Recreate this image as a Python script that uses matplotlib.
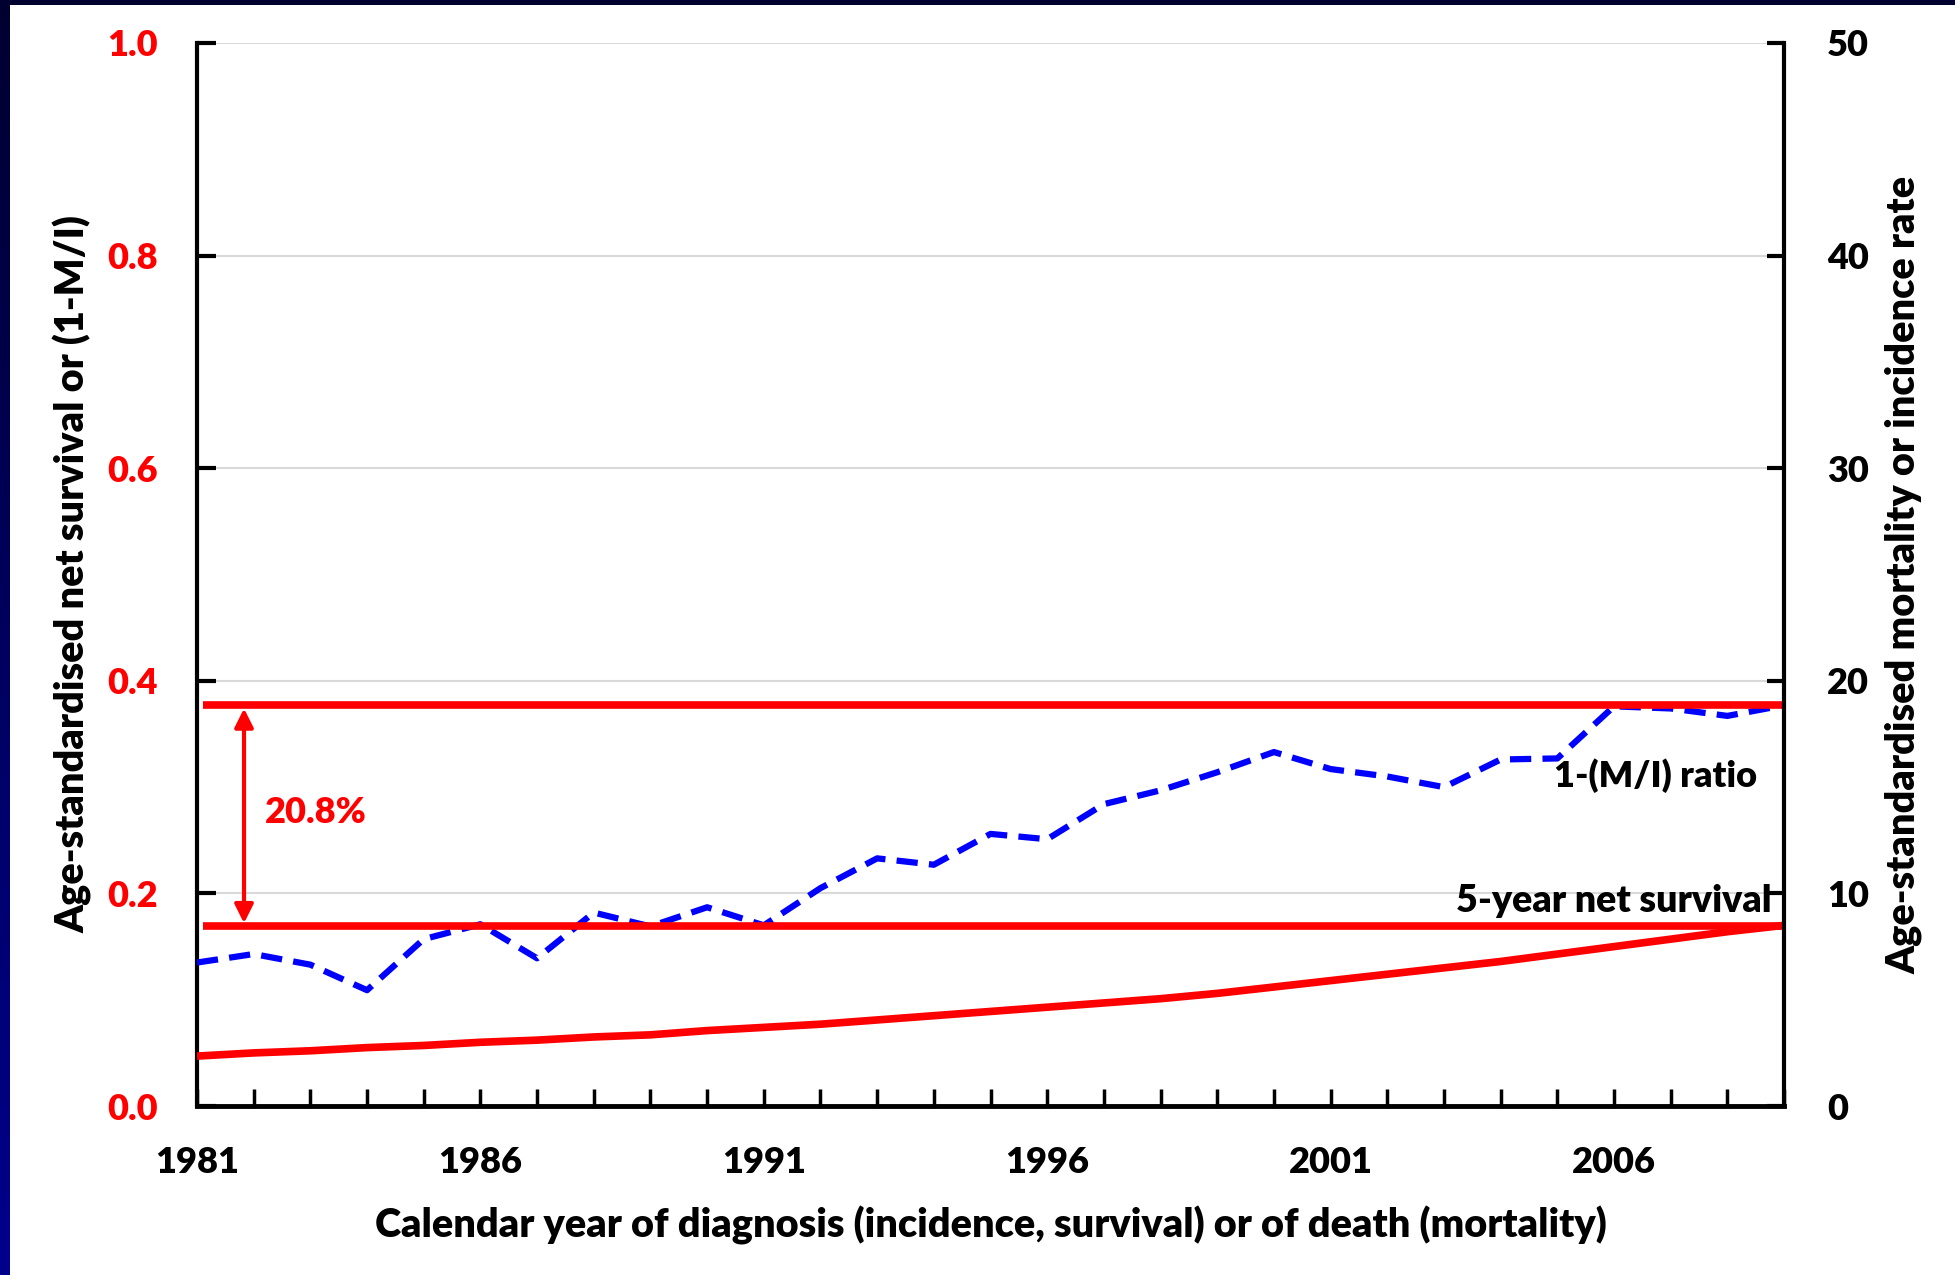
import matplotlib
matplotlib.use("Agg")
import matplotlib.pyplot as plt
import numpy as np
from matplotlib.colors import LinearSegmentedColormap

plt.rcParams['font.family'] = ['Lato', 'DejaVu Sans']
plt.rcParams['font.weight'] = 'heavy'

# calendar years and the two series (left axis, proportion)
years = list(range(1981, 2010))
ratio_1_mi = [0.135, 0.143, 0.133, 0.109, 0.157, 0.171, 0.139, 0.182, 0.169, 0.187,
              0.170, 0.205, 0.233, 0.227, 0.256, 0.251, 0.284, 0.297, 0.314, 0.333,
              0.317, 0.310, 0.300, 0.326, 0.327, 0.376, 0.374, 0.367, 0.377]
net_survival = [0.047, 0.050, 0.052, 0.055, 0.057, 0.060, 0.062, 0.065, 0.067, 0.071,
                0.074, 0.077, 0.081, 0.085, 0.089, 0.093, 0.097, 0.101, 0.106, 0.112,
                0.118, 0.124, 0.130, 0.136, 0.143, 0.150, 0.157, 0.164, 0.170]

ratio_level = 0.377      # horizontal reference for 1-(M/I)
survival_level = 0.169   # horizontal reference for 5-year net survival
gap_label = "20.8%"

left_ticks = [0.0, 0.2, 0.4, 0.6, 0.8, 1.0]
right_ticks = [0, 10, 20, 30, 40, 50]
year_labels = [1981, 1986, 1991, 1996, 2001, 2006]

RED = '#ff0000'
BLUE = '#0000ff'
W = 'heavy'

fig = plt.figure(figsize=(19.56, 12.75), dpi=100)
fig.patch.set_facecolor('white')

# dark slide border along the top and left edge
strip = fig.add_axes([0, 0, 10 / 1956, 1])
grad = np.linspace(0, 1, 256).reshape(-1, 1)
navy = LinearSegmentedColormap.from_list('navy', ['#00008c', '#000030'])
strip.imshow(grad, aspect='auto', cmap=navy, origin='lower', extent=[0, 1, 0, 1])
strip.axis('off')
top = fig.add_axes([0, 1 - 5 / 1275, 1, 5 / 1275])
top.set_facecolor('#000030')
top.set_xticks([]); top.set_yticks([])
for s in top.spines.values():
    s.set_visible(False)

ax = fig.add_axes([0.1007, 0.1325, 0.8114, 0.8338])
ax.set_xlim(1981, 2009)
ax.set_ylim(0, 1.0)

ax.plot(years, ratio_1_mi, color=BLUE, lw=4.5, dashes=(3.4, 1.8), zorder=3)
ax.plot(years, net_survival, color=RED, lw=5.5, zorder=3, solid_capstyle='butt')
ax.hlines([ratio_level, survival_level], 1981.1, 2009, color=RED, lw=5.5, zorder=4)

ax.annotate('', xy=(1981.83, survival_level + 0.003), xytext=(1981.83, ratio_level - 0.003),
            arrowprops=dict(arrowstyle='<|-|>', color=RED, lw=3, mutation_scale=28,
                            shrinkA=0, shrinkB=0), zorder=5)
ax.text(1982.2, 0.276, gap_label, color=RED, fontsize=26, fontweight=W,
        ha='left', va='center')
ax.text(2008.52, 0.311, '1-(M/I) ratio', color='black', fontsize=26,
        fontweight=W, ha='right', va='center')
ax.text(2008.78, 0.193, '5-year net survival', color='black', fontsize=27,
        fontweight=W, ha='right', va='center')

ax.set_yticks(left_ticks)
ax.set_yticklabels([f'{t:.1f}' for t in left_ticks])
ax.set_xticks(year_labels)
ax.set_xticks(years, minor=True)
ax.grid(axis='y', color='#d9d9d9', lw=1.5, zorder=0)
ax.set_axisbelow(True)
ax.tick_params(axis='y', direction='in', length=14, width=3, labelsize=26,
               labelcolor=RED, pad=28)
ax.tick_params(axis='x', which='both', direction='in', length=12, width=2.5,
               labelsize=26, pad=29)
for lbl in ax.get_xticklabels() + ax.get_yticklabels():
    lbl.set_fontweight(W)

ax.spines['top'].set_visible(False)
ax.spines['right'].set_visible(False)
ax.spines['left'].set_linewidth(3)
ax.spines['bottom'].set_linewidth(3.5)

ax.set_xlabel('Calendar year of diagnosis (incidence, survival) or of death (mortality)',
              fontsize=28.5, fontweight=W)
ax.xaxis.set_label_coords(0.5, -0.094)
ax.set_ylabel('Age-standardised net survival or (1-M/I)', fontsize=28.5, fontweight=W)
ax.yaxis.set_label_coords(-0.066, 0.5)

ax2 = ax.twinx()
ax2.set_ylim(0, 50)
ax2.set_yticks(right_ticks)
ax2.tick_params(axis='y', direction='in', length=12, width=3, labelsize=26, pad=31)
for lbl in ax2.get_yticklabels():
    lbl.set_fontweight(W)
for side in ['top', 'left', 'bottom']:
    ax2.spines[side].set_visible(False)
ax2.spines['right'].set_linewidth(3)
ax2.set_ylabel('Age-standardised mortality or incidence rate', fontsize=28.5,
               fontweight=W)
ax2.yaxis.set_label_coords(1.0637, 0.5)

fig.savefig('out.png', dpi=100)
